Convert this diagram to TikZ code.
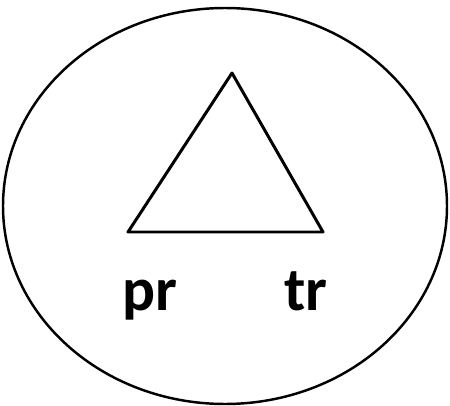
\documentclass[tikz,border=0pt]{standalone}
\usepackage{fontspec}
\setmainfont{Carlito}
\usepackage{tikz}
\usetikzlibrary{positioning}

\begin{document}
\begin{tikzpicture}[x=0.02cm, y=-0.02cm, line join=round,
    corner/.style={font=\fontsize{35}{40}\selectfont\bfseries, anchor=base, inner sep=0pt}]
  \useasboundingbox (0,0) rectangle (450,406);
  \draw[line width=1.4pt] (225,206) ellipse [x radius=222, y radius=198];
  \coordinate (apex) at (232,73);
  \coordinate (left) at (128,232);
  \coordinate (right) at (323,232);
  \draw[line width=1.7pt] (apex) -- (right) -- (left) -- cycle;
  \node[corner] (pr) at (150,310) {pr};
  \node[corner] (tr) at (306,310) {tr};
\end{tikzpicture}
\end{document}
